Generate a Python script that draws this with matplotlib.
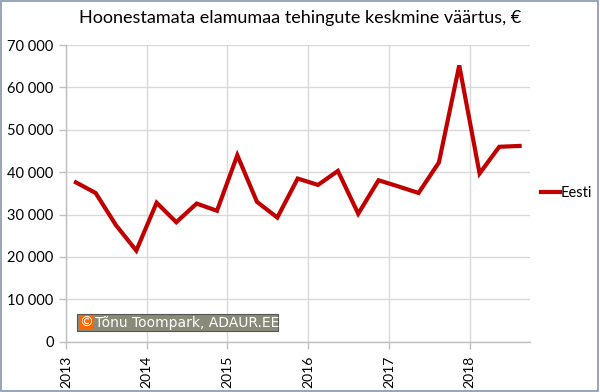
import matplotlib
matplotlib.use("Agg")
import matplotlib.pyplot as plt
import pandas as pd
from matplotlib.patches import Rectangle

plt.rcParams['font.family'] = ['Lato', 'DejaVu Sans']

title = "Hoonestamata elamumaa tehingute keskmine väärtus, €"
series_name = "Eesti"
quarters = ["2013Q1", "2013Q2", "2013Q3", "2013Q4",
            "2014Q1", "2014Q2", "2014Q3", "2014Q4",
            "2015Q1", "2015Q2", "2015Q3", "2015Q4",
            "2016Q1", "2016Q2", "2016Q3", "2016Q4",
            "2017Q1", "2017Q2", "2017Q3", "2017Q4",
            "2018Q1", "2018Q2", "2018Q3"]
values = [37600, 35100, 27500, 21500,
          32800, 28200, 32600, 30900,
          44000, 33000, 29300, 38500,
          37000, 40300, 30200, 38100,
          36600, 35100, 42300, 65200,
          39700, 46000, 46200]
year_ticks = [2013, 2014, 2015, 2016, 2017, 2018]
y_ticks = [0, 10000, 20000, 30000, 40000, 50000, 60000, 70000]
watermark = "Tõnu Toompark, ADAUR.EE"

# mid-quarter dates
dates = [pd.Timestamp(year=int(q[:4]), month=(int(q[-1]) - 1) * 3 + 2, day=15) for q in quarters]

fig = plt.figure(figsize=(6, 3.92), dpi=100)
ax = fig.add_axes([0.11, 0.1283, 0.7733, 0.7567])

ax.plot(dates, values, color="#c00000", lw=3.0, solid_joinstyle="miter", label=series_name, zorder=3)

ax.set_ylim(0, 70000)
ax.set_yticks(y_ticks)
ax.set_yticklabels([f"{v:,}".replace(",", " ") for v in y_ticks])
ax.set_xlim(pd.Timestamp("2013-01-01"), pd.Timestamp("2018-10-01"))
ax.set_xticks([pd.Timestamp(year=y, month=1, day=1) for y in year_ticks])
ax.set_xticklabels([str(y) for y in year_ticks], rotation=90)

ax.grid(True, color="#d9d9d9", lw=1.0, zorder=0)
ax.set_axisbelow(True)
for s in ["top", "right"]:
    ax.spines[s].set_visible(False)
for s in ["left", "bottom"]:
    ax.spines[s].set_color("#bfbfbf")
    ax.spines[s].set_linewidth(1.0)
ax.tick_params(axis="both", colors="#bfbfbf", labelcolor="#000000", labelsize=10.5, length=5, width=1.0)
ax.tick_params(axis="y", pad=4)
ax.tick_params(axis="x", pad=5, labelsize=10)

fig.text(0.5, 0.955, title, ha="center", va="center", fontsize=13, color="#000000")

leg = ax.legend(loc="center left", bbox_to_anchor=(1.012, 0.5), frameon=False, fontsize=10.5,
                handlelength=1.3, handletextpad=0.0, borderaxespad=0.0)

# watermark
wx0, wy0, ww, wh = 77 / 600, 1 - 331 / 392, 201 / 600, 17 / 392
fig.patches.append(Rectangle((wx0, wy0), ww, wh, transform=fig.transFigure,
                             facecolor="#8a8a78", edgecolor="#555555", lw=0.8, zorder=5))
fig.patches.append(Rectangle((wx0 + 2 / 600, wy0 + 2 / 392), 14 / 600, 13 / 392, transform=fig.transFigure,
                             facecolor="#ff6600", edgecolor="none", zorder=6))
fig.text(wx0 + 9 / 600, wy0 + wh / 2, "©", color="white", fontsize=10, ha="center", va="center",
         family=["DejaVu Sans"], zorder=7)
fig.text(wx0 + 18 / 600, wy0 + wh / 2, watermark, color="white", fontsize=10, ha="left", va="center",
         family=["DejaVu Sans"], zorder=7)

# figure border
fig.patches.append(Rectangle((0.001, 0.002), 0.996, 0.995, transform=fig.transFigure,
                             facecolor="none", edgecolor="#8496b0", lw=1.2, zorder=10))

fig.savefig("out.png", dpi=100)
